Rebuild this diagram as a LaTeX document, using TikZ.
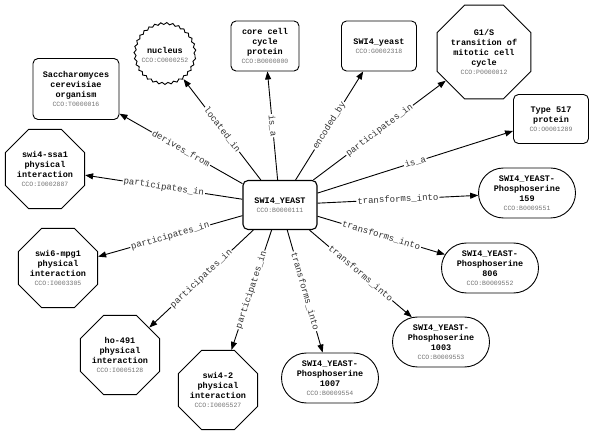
\documentclass[tikz,border=0pt]{standalone}
\usepackage{fontspec}
\setmonofont{Liberation Mono}
\usetikzlibrary{shapes,arrows.meta,decorations.pathmorphing}

% small grey identifier under each term
\newcommand{\ccoid}[1]{\\[-1pt]{\fontsize{6.5}{7}\selectfont\mdseries\color{black!55}#1}}

\tikzset{
  term/.style={draw, line width=0.9pt, align=center, inner sep=1pt,
    font=\ttfamily\bfseries\fontsize{8.5}{10}\selectfont},
  tbox/.style={term, rectangle, rounded corners=5pt},
  oct/.style={term, regular polygon, regular polygon sides=8, minimum size=#1, inner sep=0pt},
  pill/.style={term, rounded rectangle, minimum width=99pt, minimum height=50pt},
  blob/.style={term, circle, minimum size=60pt, decorate,
    decoration={snake, segment length=6pt, amplitude=1pt}},
  rel/.style={-{Triangle[length=8pt,width=6pt]}, line width=0.9pt},
  lbl/.style={midway, sloped, fill=white, inner sep=1pt, text=black!80,
    font=\ttfamily\fontsize{9}{10}\selectfont}
}

\begin{document}
\begin{tikzpicture}[x=1pt,y=-1pt]
  \useasboundingbox (0,0) rectangle (600,438);

  %centre
  \node[tbox, minimum width=74pt, minimum height=49pt, line width=1.1pt] (swi4) at (280,205) {SWI4\_YEAST\ccoid{CCO:B0000111}};

  %upper half
  \node[tbox, minimum width=86pt, minimum height=61pt] (organism) at (76,89) {Saccharomyces\\cerevisiae\\organism\ccoid{CCO:T0000016}};
  \node[blob] (nucleus) at (165,55) {nucleus\ccoid{CCO:C0000252}};
  \node[tbox, minimum width=68pt, minimum height=50pt] (core) at (265,46) {core cell\\cycle\\protein\ccoid{CCO:B0000000}};
  \node[tbox, minimum width=75pt, minimum height=50pt] (gene) at (379,46) {SWI4\_yeast\ccoid{CCO:G0002318}};
  \node[oct=95pt] (g1s) at (484,52) {G1/S\\transition of\\mitotic cell\\cycle\ccoid{CCO:P0000012}};
  \node[tbox, minimum width=75pt, minimum height=49pt] (type517) at (551,119) {Type 517\\protein\ccoid{CO:O0001289}};

  %modified forms
  \node[pill] (ps159) at (527,193) {SWI4\_YEAST-\\Phosphoserine\\159\ccoid{CCO:B0009551}};
  \node[pill] (ps806) at (490,268) {SWI4\_YEAST-\\Phosphoserine\\806\ccoid{CCO:B0009552}};
  \node[pill] (ps1003) at (441,342) {SWI4\_YEAST-\\Phosphoserine\\1003\ccoid{CCO:B0009553}};
  \node[pill] (ps1007) at (330,378) {SWI4\_YEAST-\\Phosphoserine\\1007\ccoid{CCO:B0009554}};

  %interactions
  \node[oct=81pt] (swi42) at (218,390) {swi4-2\\physical\\interaction\ccoid{CCO:I0005527}};
  \node[oct=81pt] (ho491) at (120,355) {ho-491\\physical\\interaction\ccoid{CCO:I0005128}};
  \node[oct=81pt] (swi6) at (58,268) {swi6-mpg1\\physical\\interaction\ccoid{CCO:I0003305}};
  \node[oct=82pt] (ssa1) at (45,169) {swi4-ssa1\\physical\\interaction\ccoid{CCO:I0002887}};

  \draw[rel] (swi4) -- (organism) node[lbl] {derives\_from};
  \draw[rel] (swi4) -- (nucleus) node[lbl] {located\_in};
  \draw[rel] (swi4) -- (core) node[lbl] {is\_a};
  \draw[rel] (swi4) -- (gene) node[lbl] {encoded\_by};
  \draw[rel] (swi4) -- (g1s) node[lbl] {participates\_in};
  \draw[rel] (swi4) -- (type517) node[lbl] {is\_a};
  \draw[rel] (swi4) -- (ps159) node[lbl] {transforms\_into};
  \draw[rel] (swi4) -- (ps806) node[lbl] {transforms\_into};
  \draw[rel] (swi4) -- (ps1003) node[lbl] {transforms\_into};
  \draw[rel] (swi4) -- (ps1007) node[lbl] {transforms\_into};
  \draw[rel] (swi4) -- (swi42) node[lbl] {participates\_in};
  \draw[rel] (swi4) -- (ho491) node[lbl] {participates\_in};
  \draw[rel] (swi4) -- (swi6) node[lbl] {participates\_in};
  \draw[rel] (swi4) -- (ssa1) node[lbl] {participates\_in};
\end{tikzpicture}
\end{document}
